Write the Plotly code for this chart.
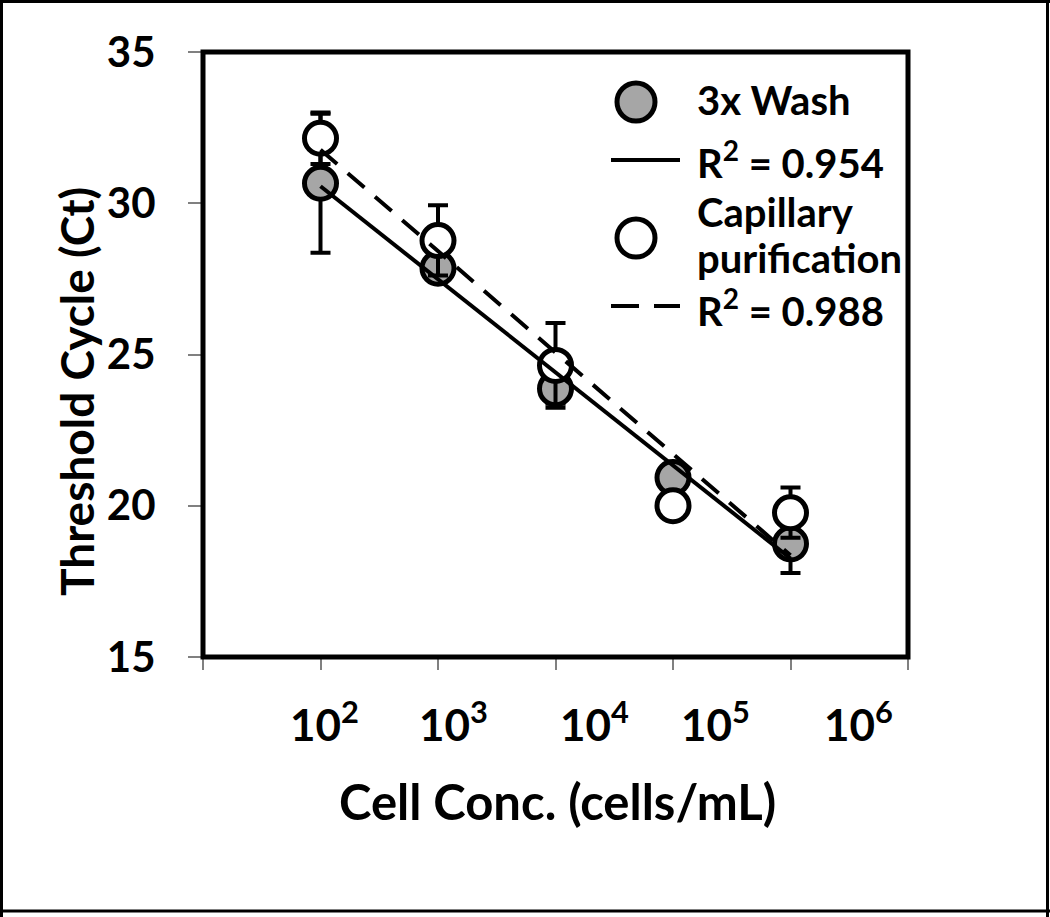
import numpy as np
import plotly.graph_objects as go

# ---- data ----
conc = [1e2, 1e3, 1e4, 1e5, 1e6]
wash_ct = [30.66, 27.85, 23.87, 20.93, 18.74]
wash_err = [2.3, 0.4, 0.5, 0.4, 0.96]
cap_ct = [32.15, 28.77, 24.64, 20.0, 19.77]
cap_err = [0.85, 1.16, 1.4, 0.3, 0.83]
tick_labels = ["10<sup>2</sup>", "10<sup>3</sup>", "10<sup>4</sup>", "10<sup>5</sup>", "10<sup>6</sup>"]
tick_label_pos = [2.03, 3.13, 4.33, 5.36, 6.58]  # log10 positions of the label text boxes
legend_texts = ["3x Wash", "R<sup>2</sup> = 0.954", "Capillary", "purification", "R<sup>2</sup> = 0.988"]

W, H = 1050, 917
L, R, T, B = 203, 908, 52, 657
FONT = "Lato"
GREY = "#a6a6a6"


def px(x):
    return (x - L) / (R - L)


def py(y):
    return (B - y) / (B - T)


logx = np.log10(conc)
fw = np.polyfit(logx, wash_ct, 1)
fc = np.polyfit(logx, cap_ct, 1)
trend_x = [conc[0], conc[-1]]
trend_w = list(np.polyval(fw, np.log10(trend_x)))
trend_c = list(np.polyval(fc, np.log10(trend_x)))

fig = go.Figure()
fig.add_trace(go.Scatter(
    x=conc, y=wash_ct, mode="markers", name="3x Wash",
    marker=dict(size=32, color=GREY, line=dict(color="black", width=5)),
    error_y=dict(type="data", array=wash_err, color="black", thickness=4, width=10),
    showlegend=False))
fig.add_trace(go.Scatter(
    x=conc, y=cap_ct, mode="markers", name="Capillary purification",
    marker=dict(size=32, color="white", line=dict(color="black", width=5)),
    error_y=dict(type="data", array=cap_err, color="black", thickness=4, width=10),
    showlegend=False))
fig.add_trace(go.Scatter(
    x=trend_x, y=trend_w, mode="lines", line=dict(color="black", width=4),
    showlegend=False, hoverinfo="skip"))
fig.add_trace(go.Scatter(
    x=trend_x, y=trend_c, mode="lines", line=dict(color="black", width=4, dash="22px,14px"),
    showlegend=False, hoverinfo="skip"))

shapes = []
# plot frame
shapes.append(dict(type="rect", xref="paper", yref="paper", x0=0, x1=1, y0=0, y1=1,
                   line=dict(color="black", width=5), layer="above"))
# outer page border
for (x0, y0, x1, y1) in [(1.5, 0, 1.5, 917), (1047.5, 0, 1047.5, 917), (0, 1.5, 1050, 1.5), (0, 911, 1050, 911)]:
    shapes.append(dict(type="line", xref="paper", yref="paper",
                       x0=px(x0), x1=px(x1), y0=py(y0), y1=py(y1),
                       line=dict(color="black", width=3)))
# legend symbols
for (cx, cy, fill) in [(636, 102, GREY), (636, 238, "white")]:
    shapes.append(dict(type="circle", xref="paper", yref="paper",
                       x0=px(cx - 19), x1=px(cx + 19), y0=py(cy + 19), y1=py(cy - 19),
                       fillcolor=fill, line=dict(color="black", width=5)))
shapes.append(dict(type="line", xref="paper", yref="paper", x0=px(611), x1=px(680),
                   y0=py(160), y1=py(160), line=dict(color="black", width=4)))
for (a, b) in [(611, 639), (654, 680)]:
    shapes.append(dict(type="line", xref="paper", yref="paper", x0=px(a), x1=px(b),
                       y0=py(306), y1=py(306), line=dict(color="black", width=4)))

ann = []
for lbl, pos in zip(tick_labels, tick_label_pos):
    ann.append(dict(x=pos, xref="x", y=py(721), yref="paper", text="<b>" + lbl + "</b>", showarrow=False,
                    xanchor="center", yanchor="middle",
                    font=dict(family=FONT, size=44, color="black")))
ann.append(dict(x=px(557), y=py(801), xref="paper", yref="paper", text="<b>Cell Conc. (cells/mL)</b>",
                showarrow=False, xanchor="center", yanchor="middle",
                font=dict(family=FONT, size=49, color="black")))
ann.append(dict(x=px(76), y=py(392), xref="paper", yref="paper", text="<b>Threshold Cycle (Ct)</b>",
                showarrow=False, xanchor="center", yanchor="middle", textangle=-90,
                font=dict(family=FONT, size=46, color="black")))
for txt, yy in zip(legend_texts, [100, 160, 212, 258, 308]):
    ann.append(dict(x=px(695), y=py(yy), xref="paper", yref="paper", text="<b>" + txt + "</b>",
                    showarrow=False, xanchor="left", yanchor="middle", align="left",
                    font=dict(family=FONT, size=40, color="black")))

fig.update_layout(
    width=W, height=H,
    margin=dict(l=L, r=W - R, t=T, b=H - B, autoexpand=False),
    paper_bgcolor="white", plot_bgcolor="white",
    shapes=shapes, annotations=ann,
    xaxis=dict(type="log", range=[1, 7], showgrid=False, zeroline=False,
               tickvals=[1e1, 1e2, 1e3, 1e4, 1e5, 1e6, 1e7], showticklabels=False,
               ticks="outside", ticklen=12, tickwidth=2, tickcolor="#808080",
               showline=False),
    yaxis=dict(range=[15, 35], dtick=5, showgrid=False, zeroline=False,
               ticks="outside", ticklen=14, tickwidth=2, tickcolor="#808080",
               ticklabelstandoff=24, showline=False,
               tickfont=dict(family=FONT, size=42, color="black", weight="bold")),
)
fig.write_html("out.html", config={"displayModeBar": False},
               post_script="document.body.style.margin='0px';document.body.style.overflow='hidden';")
